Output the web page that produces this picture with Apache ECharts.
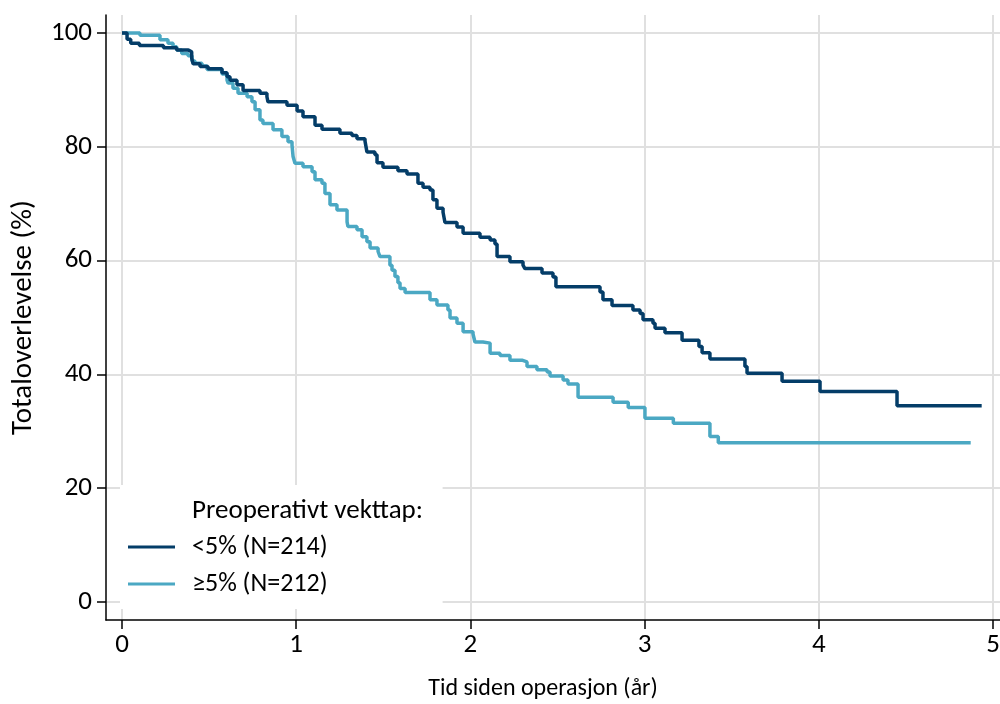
<!DOCTYPE html>
<html>
<head>
<meta charset="utf-8">
<script src="https://cdn.jsdelivr.net/npm/echarts@6/dist/echarts.min.js"></script>
<style>html,body{margin:0;padding:0;background:#fff}#c{width:1000px;height:704px}</style>
</head>
<body>
<div id="c"></div>
<script>
// Tick labels
const xTicks = [0, 1, 2, 3, 4, 5];
const yTicks = [0, 20, 40, 60, 80, 100];

// Series names
const seriesNames = ['<5% (N=214)', '≥5% (N=212)'];
const legendTitle = 'Preoperativt vekttap:';

// <5% group: event times (years) and survival (%) after each step
const lowTimes = [0, 0.029, 0.05, 0.10, 0.238, 0.314, 0.381, 0.40, 0.408, 0.448, 0.494, 0.574, 0.603, 0.62, 0.66, 0.695, 0.792, 0.832, 0.838, 0.947, 1.005, 1.039, 1.108, 1.148, 1.251, 1.32, 1.349, 1.395, 1.406, 1.452, 1.464, 1.498, 1.584, 1.636, 1.699, 1.728, 1.768, 1.785, 1.808, 1.843, 1.854, 1.923, 1.958, 2.055, 2.113, 2.141, 2.153, 2.227, 2.302, 2.313, 2.411, 2.474, 2.491, 2.744, 2.761, 2.813, 2.933, 2.974, 2.991, 3.048, 3.06, 3.117, 3.215, 3.312, 3.33, 3.375, 3.576, 3.588, 3.789, 4.007, 4.449, 4.935];
const lowSurv = [100, 98.9, 98.2, 97.8, 97.4, 97.0, 96.7, 95.6, 94.6, 94.1, 93.7, 93.0, 92.3, 91.7, 90.9, 89.9, 89.4, 88.8, 87.9, 87.3, 86.3, 85.3, 83.8, 83.1, 82.4, 82.0, 81.4, 81.0, 79.1, 78.6, 77.2, 76.4, 75.8, 75.2, 73.6, 72.9, 72.4, 70.7, 69.2, 68.5, 66.7, 65.9, 64.8, 64.1, 63.6, 62.9, 60.7, 59.8, 59.2, 58.6, 57.8, 57.1, 55.4, 54.5, 53.1, 52.1, 51.3, 50.7, 49.6, 49.0, 48.1, 47.3, 46.0, 44.9, 43.8, 42.7, 41.4, 40.2, 38.8, 37.0, 34.5, 34.5];

// >=5% group
const highTimes = [0, 0.103, 0.218, 0.264, 0.293, 0.314, 0.343, 0.379, 0.402, 0.419, 0.459, 0.488, 0.574, 0.603, 0.609, 0.637, 0.666, 0.718, 0.746, 0.764, 0.792, 0.809, 0.867, 0.918, 0.953, 0.976, 0.982, 0.993, 1.039, 1.091, 1.108, 1.148, 1.165, 1.194, 1.234, 1.292, 1.297, 1.349, 1.378, 1.406, 1.424, 1.47, 1.481, 1.538, 1.55, 1.567, 1.584, 1.596, 1.625, 1.768, 1.808, 1.871, 1.883, 1.923, 1.958, 2.015, 2.026, 2.072, 2.113, 2.17, 2.227, 2.296, 2.325, 2.382, 2.44, 2.457, 2.532, 2.56, 2.618, 2.819, 2.906, 3.002, 3.165, 3.375, 3.423, 4.872];
const highSurv = [100, 99.6, 98.8, 98.2, 97.6, 97.0, 96.4, 96.0, 95.1, 94.7, 94.2, 93.6, 92.8, 91.7, 91.2, 90.3, 89.4, 88.8, 87.9, 86.5, 84.7, 84.1, 83.0, 81.8, 80.9, 80.3, 78.3, 77.1, 76.5, 75.6, 74.2, 73.6, 71.8, 69.8, 68.9, 66.8, 66.0, 65.4, 64.2, 63.3, 62.2, 61.6, 60.7, 59.2, 58.3, 57.2, 56.1, 55.1, 54.4, 53.1, 52.2, 51.3, 49.9, 49.0, 47.5, 47.1, 45.7, 45.5, 43.7, 43.3, 42.5, 42.2, 41.4, 40.8, 40.4, 39.7, 39.0, 38.3, 36.0, 35.1, 34.2, 32.3, 31.4, 29.1, 28.0, 28.0];

const colors = ['#043d68', '#4ba8c3'];
const FONT = 'Carlito, Calibri, Lato, sans-serif';

const pair = (t, s) => t.map((v, i) => [v, s[i]]);

const chart = echarts.init(document.getElementById('c'), null, {renderer: 'canvas'});
chart.setOption({
  animation: false,
  backgroundColor: '#fff',
  textStyle: {fontFamily: FONT},
  grid: {left: 106, right: 0, top: 15, bottom: 84, containLabel: false, outerBoundsMode: 'none'},
  title: {
    text: legendTitle,
    left: 187, top: 493,
    textStyle: {fontFamily: FONT, fontWeight: 'normal', fontSize: 27, color: '#000'}
  },
  legend: {
    data: seriesNames,
    orient: 'vertical',
    left: 120, top: 485,
    padding: [49, 115, 12, 8],
    backgroundColor: '#fff',
    icon: 'rect',
    itemWidth: 47, itemHeight: 3,
    itemGap: 11,
    textStyle: {fontFamily: FONT, fontSize: 26, color: '#000', padding: [0, 0, 0, 12]}
  },
  xAxis: {
    type: 'value',
    min: -16 / 174.2, max: 878 / 174.2,
    name: 'Tid siden operasjon (år)',
    nameLocation: 'middle', nameGap: 57,
    nameTextStyle: {fontFamily: FONT, fontSize: 24, color: '#000', padding: [0, 0, 0, -20]},
    axisLine: {show: true, onZero: false, lineStyle: {color: '#000', width: 1.5}},
    axisTick: {show: true, length: 9, customValues: xTicks, lineStyle: {color: '#000', width: 1.5}},
    axisLabel: {customValues: xTicks, margin: 12, fontFamily: FONT, fontSize: 27, color: '#000'},
    splitLine: {show: true, lineStyle: {color: '#e0e0e0', width: 2}}
  },
  yAxis: {
    type: 'value',
    min: -18 / 5.69, max: 100 + 18 / 5.69,
    name: 'Totaloverlevelse (%)',
    nameLocation: 'middle', nameGap: 68,
    nameTextStyle: {fontFamily: FONT, fontSize: 29, color: '#000'},
    axisLine: {show: true, onZero: false, lineStyle: {color: '#000', width: 1.5}},
    axisTick: {show: true, length: 9, customValues: yTicks, lineStyle: {color: '#000', width: 1.5}},
    axisLabel: {customValues: yTicks, margin: 14, fontFamily: FONT, fontSize: 27, color: '#000'},
    splitLine: {show: true, lineStyle: {color: '#e0e0e0', width: 2}}
  },
  series: [
    {name: seriesNames[0], type: 'line', step: 'end', showSymbol: false, data: pair(lowTimes, lowSurv),
     lineStyle: {color: colors[0], width: 3.5}, itemStyle: {color: colors[0]}, z: 3},
    {name: seriesNames[1], type: 'line', step: 'end', showSymbol: false, data: pair(highTimes, highSurv),
     lineStyle: {color: colors[1], width: 3.5}, itemStyle: {color: colors[1]}, z: 2}
  ]
});
</script>
</body>
</html>
